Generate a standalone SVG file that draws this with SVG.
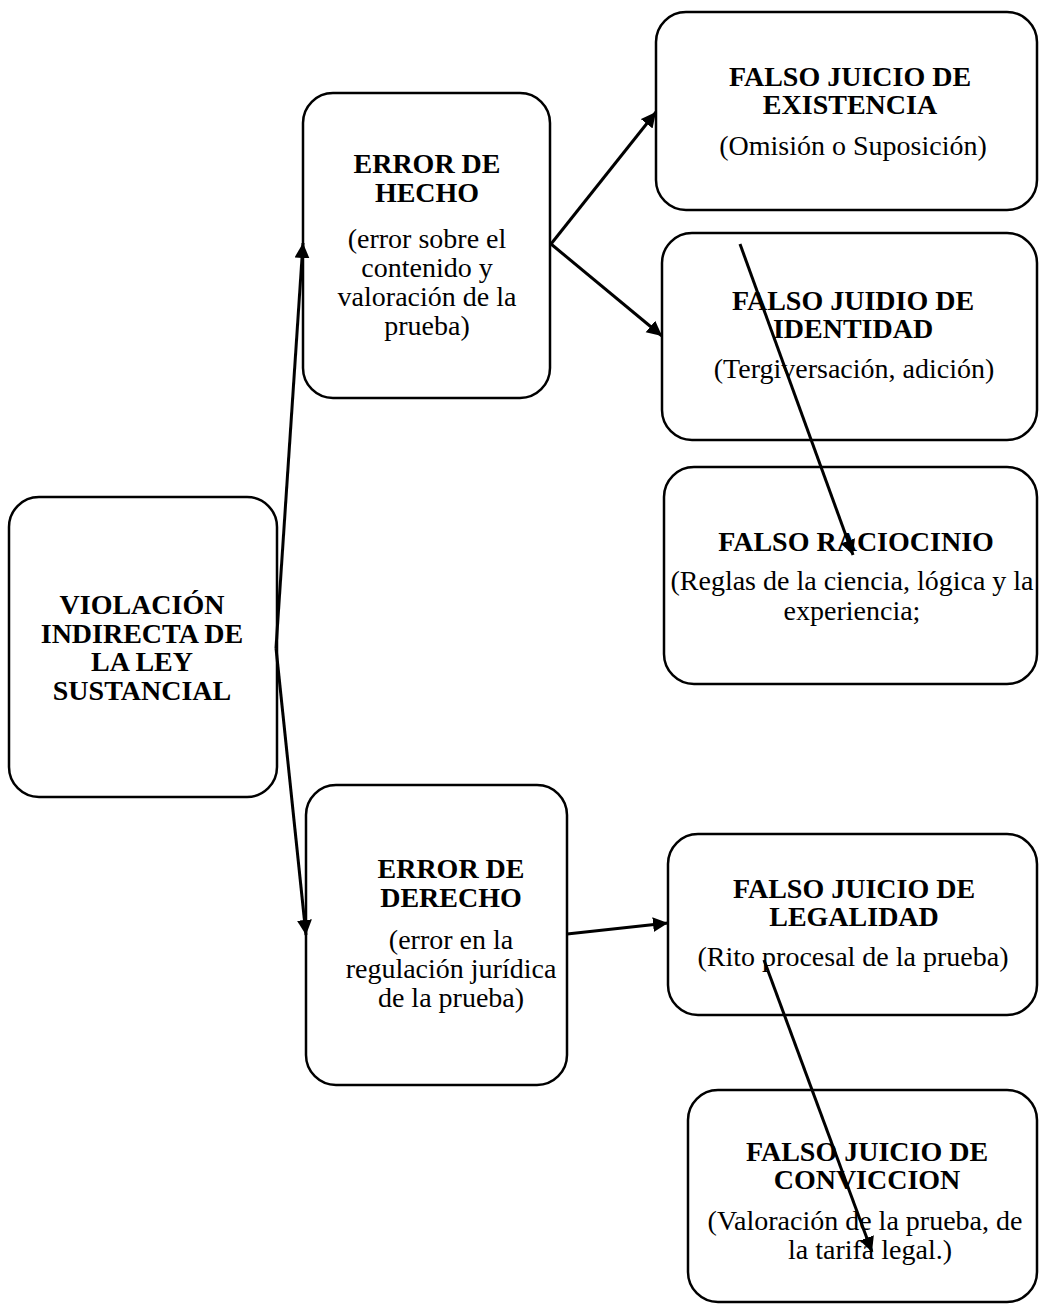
<svg xmlns="http://www.w3.org/2000/svg" width="1039" height="1305" viewBox="0 0 1039 1305">
<defs>
<style>
.box{fill:#fff;stroke:#000;stroke-width:2.5}
.t{font-family:"Liberation Serif","Times New Roman",serif;font-size:28px;fill:#000;text-anchor:middle}
.b{font-weight:bold}
.c{stroke:#000;stroke-width:3;fill:none;marker-end:url(#ah)}
</style>
<marker id="ah" markerUnits="userSpaceOnUse" markerWidth="16" markerHeight="16" refX="15" refY="7.5" orient="auto">
<path d="M0,0 L15,7.5 L0,15 Z" fill="#000"/>
</marker>
</defs>
<rect width="1039" height="1305" fill="#fff"/>

<g id="n1">
<rect class="box" x="9" y="497" width="268" height="300" rx="30"/>
<text class="t b" x="142" y="614">VIOLACIÓN</text>
<text class="t b" x="142" y="643">INDIRECTA DE</text>
<text class="t b" x="142" y="671">LA LEY</text>
<text class="t b" x="142" y="700">SUSTANCIAL</text>
</g>

<g id="n2">
<rect class="box" x="303" y="93" width="247" height="305" rx="30"/>
<text class="t b" x="427" y="173">ERROR DE</text>
<text class="t b" x="427" y="202">HECHO</text>
<text class="t" x="427" y="248">(error sobre el</text>
<text class="t" x="427" y="277">contenido y</text>
<text class="t" x="427" y="306">valoración de la</text>
<text class="t" x="427" y="335">prueba)</text>
</g>

<g id="n3">
<rect class="box" x="656" y="12" width="381" height="198" rx="30"/>
<text class="t b" x="850" y="86">FALSO JUICIO DE</text>
<text class="t b" x="850" y="114">EXISTENCIA</text>
<text class="t" x="853" y="155">(Omisión o Suposición)</text>
</g>

<g id="n4">
<rect class="box" x="662" y="233" width="375" height="207" rx="30"/>
<text class="t b" x="853" y="310">FALSO JUIDIO DE</text>
<text class="t b" x="853" y="338">IDENTIDAD</text>
<text class="t" x="854" y="378">(Tergiversación, adición)</text>
</g>

<g id="n5">
<rect class="box" x="664" y="467" width="373" height="217" rx="30"/>
<text class="t b" x="856" y="551">FALSO RACIOCINIO</text>
<text class="t" x="852" y="590">(Reglas de la ciencia, lógica y la</text>
<text class="t" x="852" y="620">experiencia;</text>
</g>

<g id="n6">
<rect class="box" x="306" y="785" width="261" height="300" rx="30"/>
<text class="t b" x="451" y="878">ERROR DE</text>
<text class="t b" x="451" y="907">DERECHO</text>
<text class="t" x="451" y="949">(error en la</text>
<text class="t" x="451" y="978">regulación jurídica</text>
<text class="t" x="451" y="1007">de la prueba)</text>
</g>

<g id="n7">
<rect class="box" x="668" y="834" width="369" height="181" rx="30"/>
<text class="t b" x="854" y="898">FALSO JUICIO DE</text>
<text class="t b" x="854" y="926">LEGALIDAD</text>
<text class="t" x="853" y="966">(Rito procesal de la prueba)</text>
</g>

<g id="n8">
<rect class="box" x="688" y="1090" width="349" height="212" rx="30"/>
<text class="t b" x="867" y="1161">FALSO JUICIO DE</text>
<text class="t b" x="867" y="1189">CONVICCION</text>
<text class="t" x="865" y="1230">(Valoración de la prueba, de</text>
<text class="t" x="870" y="1259">la tarifa legal.)</text>
</g>

<g id="connectors">
<line class="c" x1="276" y1="648" x2="303" y2="243"/>
<line class="c" x1="276" y1="648" x2="306" y2="935"/>
<line class="c" x1="551" y1="244" x2="656" y2="112"/>
<line class="c" x1="551" y1="244" x2="662" y2="336"/>
<line class="c" x1="567" y1="934" x2="668" y2="923"/>
<line class="c" x1="740" y1="244" x2="853" y2="555"/>
<line class="c" x1="764" y1="960" x2="872" y2="1252"/>
</g>
</svg>
